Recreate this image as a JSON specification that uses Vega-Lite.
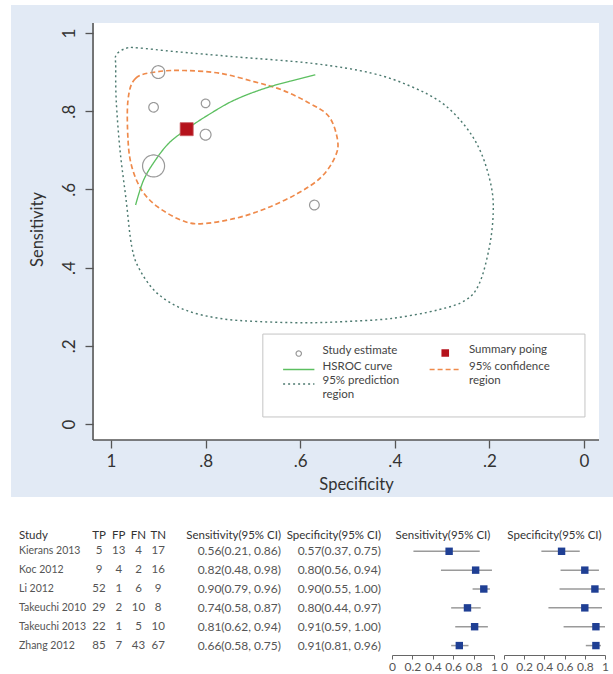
{
  "$schema": "https://vega.github.io/schema/vega-lite/v6.json",
  "padding": {"left": 10, "top": 5, "right": 0, "bottom": 0},
  "background": "white",
  "config": {
    "font": "Lato",
    "view": {"stroke": "transparent"},
    "axis": {"labelFont": "Lato", "titleFont": "Lato", "labelOverlap": false},
    "legend": {"labelFont": "Lato"},
    "text": {"font": "Lato"}
  },
  "datasets": {
    "studies": [
      {"study": "Kierans 2013", "TP": 5, "FP": 13, "FN": 4, "TN": 17, "sens": 0.56, "sensLo": 0.21, "sensHi": 0.86, "spec": 0.57, "specLo": 0.37, "specHi": 0.75},
      {"study": "Koc 2012", "TP": 9, "FP": 4, "FN": 2, "TN": 16, "sens": 0.82, "sensLo": 0.48, "sensHi": 0.98, "spec": 0.80, "specLo": 0.56, "specHi": 0.94},
      {"study": "Li 2012", "TP": 52, "FP": 1, "FN": 6, "TN": 9, "sens": 0.90, "sensLo": 0.79, "sensHi": 0.96, "spec": 0.90, "specLo": 0.55, "specHi": 1.00},
      {"study": "Takeuchi 2010", "TP": 29, "FP": 2, "FN": 10, "TN": 8, "sens": 0.74, "sensLo": 0.58, "sensHi": 0.87, "spec": 0.80, "specLo": 0.44, "specHi": 0.97},
      {"study": "Takeuchi 2013", "TP": 22, "FP": 1, "FN": 5, "TN": 10, "sens": 0.81, "sensLo": 0.62, "sensHi": 0.94, "spec": 0.91, "specLo": 0.59, "specHi": 1.00},
      {"study": "Zhang 2012", "TP": 85, "FP": 7, "FN": 43, "TN": 67, "sens": 0.66, "sensLo": 0.58, "sensHi": 0.75, "spec": 0.91, "specLo": 0.81, "specHi": 0.96}
    ],
    "pred": [
      {"i": 0, "spec": 0.989, "sens": 0.944}, {"i": 1, "spec": 0.968, "sens": 0.961}, {"i": 2, "spec": 0.944, "sens": 0.962},
      {"i": 3, "spec": 0.861, "sens": 0.952}, {"i": 4, "spec": 0.737, "sens": 0.939}, {"i": 5, "spec": 0.572, "sens": 0.922},
      {"i": 6, "spec": 0.448, "sens": 0.897}, {"i": 7, "spec": 0.365, "sens": 0.863}, {"i": 8, "spec": 0.299, "sens": 0.820},
      {"i": 9, "spec": 0.250, "sens": 0.760}, {"i": 10, "spec": 0.217, "sens": 0.692}, {"i": 11, "spec": 0.196, "sens": 0.607},
      {"i": 12, "spec": 0.192, "sens": 0.539}, {"i": 13, "spec": 0.200, "sens": 0.453}, {"i": 14, "spec": 0.221, "sens": 0.360},
      {"i": 15, "spec": 0.250, "sens": 0.317}, {"i": 16, "spec": 0.308, "sens": 0.292}, {"i": 17, "spec": 0.407, "sens": 0.270},
      {"i": 18, "spec": 0.506, "sens": 0.262}, {"i": 19, "spec": 0.588, "sens": 0.259}, {"i": 20, "spec": 0.688, "sens": 0.262},
      {"i": 21, "spec": 0.770, "sens": 0.270}, {"i": 22, "spec": 0.844, "sens": 0.292}, {"i": 23, "spec": 0.902, "sens": 0.334},
      {"i": 24, "spec": 0.939, "sens": 0.394}, {"i": 25, "spec": 0.956, "sens": 0.453}, {"i": 26, "spec": 0.968, "sens": 0.573},
      {"i": 27, "spec": 0.981, "sens": 0.701}, {"i": 28, "spec": 0.989, "sens": 0.829}, {"i": 29, "spec": 0.990, "sens": 0.914}
    ],
    "conf": [
      {"i": 0, "spec": 0.964, "sens": 0.829}, {"i": 1, "spec": 0.948, "sens": 0.884}, {"i": 2, "spec": 0.902, "sens": 0.901},
      {"i": 3, "spec": 0.844, "sens": 0.904}, {"i": 4, "spec": 0.770, "sens": 0.897}, {"i": 5, "spec": 0.696, "sens": 0.875},
      {"i": 6, "spec": 0.638, "sens": 0.854}, {"i": 7, "spec": 0.580, "sens": 0.820}, {"i": 8, "spec": 0.539, "sens": 0.786},
      {"i": 9, "spec": 0.521, "sens": 0.726}, {"i": 10, "spec": 0.526, "sens": 0.684}, {"i": 11, "spec": 0.555, "sens": 0.632},
      {"i": 12, "spec": 0.605, "sens": 0.590}, {"i": 13, "spec": 0.671, "sens": 0.552}, {"i": 14, "spec": 0.737, "sens": 0.526},
      {"i": 15, "spec": 0.811, "sens": 0.512}, {"i": 16, "spec": 0.853, "sens": 0.522}, {"i": 17, "spec": 0.902, "sens": 0.556},
      {"i": 18, "spec": 0.935, "sens": 0.598}, {"i": 19, "spec": 0.956, "sens": 0.658}, {"i": 20, "spec": 0.964, "sens": 0.726}
    ],
    "hsroc": [
      {"i": 0, "spec": 0.948, "sens": 0.560}, {"i": 1, "spec": 0.931, "sens": 0.624}, {"i": 2, "spec": 0.906, "sens": 0.675},
      {"i": 3, "spec": 0.877, "sens": 0.719}, {"i": 4, "spec": 0.840, "sens": 0.754}, {"i": 5, "spec": 0.795, "sens": 0.790},
      {"i": 6, "spec": 0.738, "sens": 0.829}, {"i": 7, "spec": 0.663, "sens": 0.863}, {"i": 8, "spec": 0.568, "sens": 0.893}
    ]
  },
  "spacing": 25,
  "vconcat": [
    {
      "width": 603,
      "height": 492,
      "view": {"fill": "#e2eaf5", "stroke": null},
      "layer": [
        {
          "data": {"values": [{"k": 1}]},
          "mark": {"type": "rect", "fill": "#ffffff"},
          "encoding": {
            "x": {
              "datum": 1.038, "type": "quantitative", "title": "Specificity",
              "scale": {"domain": [-0.0634, 1.2114], "reverse": true, "nice": false, "zero": false},
              "axis": {
                "title": "Specificity", "values": [0, 0.2, 0.4, 0.6, 0.8, 1], "offset": -57, "domain": false,
                "labelExpr": "datum.value == 0 ? '0' : datum.value == 1 ? '1' : replace(format(datum.value, '.1f'), '0.', '.')",
                "grid": false, "tickColor": "#555555", "tickWidth": 1.3, "tickSize": 8,
                "labelFontSize": 17, "labelColor": "#333333", "labelPadding": 5, "labelFlush": false, "labelOverlap": false,
                "titleFontSize": 16.5, "titleFontWeight": "normal", "titleColor": "#333333", "titlePadding": 7, "titleX": 345, "zindex": 1
              }
            },
            "x2": {"datum": -0.0317},
            "y": {
              "datum": 1.0256, "type": "quantitative", "title": "Sensitivity",
              "scale": {"domain": [-0.1867, 1.0716], "nice": false, "zero": false},
              "axis": {
                "title": "Sensitivity", "values": [0, 0.2, 0.4, 0.6, 0.8, 1], "offset": -82, "domain": false,
                "labelExpr": "datum.value == 0 ? '0' : datum.value == 1 ? '1' : replace(format(datum.value, '.1f'), '0.', '.')",
                "grid": false, "tickColor": "#555555", "tickWidth": 1.3, "tickSize": 8,
                "labelAngle": -90, "labelAlign": "center", "labelBaseline": "bottom",
                "labelFontSize": 17, "labelColor": "#333333", "labelPadding": 7, "labelFlush": false, "labelOverlap": false,
                "titleFontSize": 16.5, "titleFontWeight": "normal", "titleColor": "#333333", "titlePadding": 15, "titleY": 224, "zindex": 1
              }
            },
            "y2": {"datum": -0.0409}
          }
        },
        {
          "data": {"values": [{"k": 1}]},
          "mark": {"type": "rect", "fill": "#ffffff", "stroke": "#c4c4c4", "strokeWidth": 1},
          "encoding": {
            "x": {"datum": 0.679, "type": "quantitative", "title": "Specificity", "scale": {"domain": [-0.0634, 1.2114], "reverse": true, "nice": false, "zero": false}},
            "x2": {"datum": -0.002},
            "y": {"datum": 0.230, "type": "quantitative", "title": "Sensitivity", "scale": {"domain": [-0.1867, 1.0716], "nice": false, "zero": false}},
            "y2": {"datum": 0.018}
          }
        },
        {
          "data": {"values": [{"k": 1}]},
          "mark": {"type": "rule", "color": "#555555", "strokeWidth": 1.6},
          "encoding": {
            "x": {"datum": 1.038, "type": "quantitative", "title": "Specificity", "scale": {"domain": [-0.0634, 1.2114], "reverse": true, "nice": false, "zero": false}},
            "x2": {"datum": -0.0317},
            "y": {"datum": -0.0409, "type": "quantitative", "title": "Sensitivity", "scale": {"domain": [-0.1867, 1.0716], "nice": false, "zero": false}}
          }
        },
        {
          "data": {"values": [{"k": 1}]},
          "mark": {"type": "rule", "color": "#555555", "strokeWidth": 1.6},
          "encoding": {
            "x": {"datum": 1.038, "type": "quantitative", "title": "Specificity", "scale": {"domain": [-0.0634, 1.2114], "reverse": true, "nice": false, "zero": false}},
            "y": {"datum": -0.0409, "type": "quantitative", "title": "Sensitivity", "scale": {"domain": [-0.1867, 1.0716], "nice": false, "zero": false}},
            "y2": {"datum": 1.0256}
          }
        },
        {
          "data": {"name": "pred"},
          "mark": {"type": "line", "interpolate": "cardinal-closed"},
          "encoding": {
            "x": {"field": "spec", "type": "quantitative", "title": "Specificity", "scale": {"domain": [-0.0634, 1.2114], "reverse": true, "nice": false, "zero": false}},
            "y": {"field": "sens", "type": "quantitative", "title": "Sensitivity", "scale": {"domain": [-0.1867, 1.0716], "nice": false, "zero": false}},
            "order": {"field": "i", "type": "quantitative"},
            "color": {"datum": "95% prediction region", "scale": {"domain": ["Study estimate", "HSROC curve", "95% prediction region", "Summary poing", "95% confidence", "region"], "range": ["#999999", "#5cbf60", "#4d7a70", "#b5121b", "#ef8a4b", "transparent"]}},
            "strokeDash": {"datum": "95% prediction region", "scale": {"domain": ["Study estimate", "HSROC curve", "95% prediction region", "Summary poing", "95% confidence", "region"], "range": [[1, 0], [1, 0], [2, 3], [1, 0], [5, 3], [1, 0]]}},
            "strokeWidth": {"datum": "95% prediction region", "scale": {"domain": ["Study estimate", "HSROC curve", "95% prediction region", "Summary poing", "95% confidence", "region"], "range": [1.2, 1.8, 1.7, 1.8, 1.8, 1]}}
          }
        },
        {
          "data": {"name": "conf"},
          "mark": {"type": "line", "interpolate": "cardinal-closed"},
          "encoding": {
            "x": {"field": "spec", "type": "quantitative", "title": "Specificity", "scale": {"domain": [-0.0634, 1.2114], "reverse": true, "nice": false, "zero": false}},
            "y": {"field": "sens", "type": "quantitative", "title": "Sensitivity", "scale": {"domain": [-0.1867, 1.0716], "nice": false, "zero": false}},
            "order": {"field": "i", "type": "quantitative"},
            "color": {"datum": "95% confidence", "scale": {"domain": ["Study estimate", "HSROC curve", "95% prediction region", "Summary poing", "95% confidence", "region"], "range": ["#999999", "#5cbf60", "#4d7a70", "#b5121b", "#ef8a4b", "transparent"]}},
            "strokeDash": {"datum": "95% confidence", "scale": {"domain": ["Study estimate", "HSROC curve", "95% prediction region", "Summary poing", "95% confidence", "region"], "range": [[1, 0], [1, 0], [2, 3], [1, 0], [5, 3], [1, 0]]}},
            "strokeWidth": {"datum": "95% confidence", "scale": {"domain": ["Study estimate", "HSROC curve", "95% prediction region", "Summary poing", "95% confidence", "region"], "range": [1.2, 1.8, 1.7, 1.8, 1.8, 1]}}
          }
        },
        {
          "data": {"name": "hsroc"},
          "mark": {"type": "line", "interpolate": "cardinal"},
          "encoding": {
            "x": {"field": "spec", "type": "quantitative", "title": "Specificity", "scale": {"domain": [-0.0634, 1.2114], "reverse": true, "nice": false, "zero": false}},
            "y": {"field": "sens", "type": "quantitative", "title": "Sensitivity", "scale": {"domain": [-0.1867, 1.0716], "nice": false, "zero": false}},
            "order": {"field": "i", "type": "quantitative"},
            "color": {"datum": "HSROC curve", "scale": {"domain": ["Study estimate", "HSROC curve", "95% prediction region", "Summary poing", "95% confidence", "region"], "range": ["#999999", "#5cbf60", "#4d7a70", "#b5121b", "#ef8a4b", "transparent"]}},
            "strokeDash": {"datum": "HSROC curve", "scale": {"domain": ["Study estimate", "HSROC curve", "95% prediction region", "Summary poing", "95% confidence", "region"], "range": [[1, 0], [1, 0], [2, 3], [1, 0], [5, 3], [1, 0]]}},
            "strokeWidth": {"datum": "HSROC curve", "scale": {"domain": ["Study estimate", "HSROC curve", "95% prediction region", "Summary poing", "95% confidence", "region"], "range": [1.2, 1.8, 1.7, 1.8, 1.8, 1]}}
          }
        },
        {
          "data": {"name": "studies"},
          "transform": [{"calculate": "datum.TP + datum.FP + datum.FN + datum.TN", "as": "n"}],
          "mark": {"type": "point", "filled": false, "opacity": 1},
          "encoding": {
            "x": {"field": "spec", "type": "quantitative", "title": "Specificity", "scale": {"domain": [-0.0634, 1.2114], "reverse": true, "nice": false, "zero": false}},
            "y": {"field": "sens", "type": "quantitative", "title": "Sensitivity", "scale": {"domain": [-0.1867, 1.0716], "nice": false, "zero": false}},
            "color": {
              "datum": "Study estimate",
              "scale": {"domain": ["Study estimate", "HSROC curve", "95% prediction region", "Summary poing", "95% confidence", "region"], "range": ["#999999", "#5cbf60", "#4d7a70", "#b5121b", "#ef8a4b", "transparent"]},
              "legend": {
                "orient": "none", "legendX": 282, "legendY": 342.25, "title": null, "columns": 2, "columnPadding": 25.5,
                "padding": 0, "symbolSize": 20, "labelOffset": 18,
                "rowPadding": 0.5, "labelFontSize": 11.5, "labelColor": "#444444", "labelBaseline": "alphabetic",
                "labelExpr": "datum.label == '95% prediction region' ? ['95% prediction', 'region'] : datum.label",
                "encode": {
                  "labels": {"dy": {"value": 4}, "lineHeight": {"value": 15}}
                }
              }
            },
            "shape": {"datum": "Study estimate", "scale": {"domain": ["Study estimate", "HSROC curve", "95% prediction region", "Summary poing", "95% confidence", "region"], "range": ["M1.2,0A1.2,1.2,0,1,1,-1.2,0A1.2,1.2,0,1,1,1.2,0Z", "M-7,0H7", "M-7,0H7", "M-1.7,-1.35H1.7M-1.7,-0.81H1.7M-1.7,-0.27H1.7M-1.7,0.27H1.7M-1.7,0.81H1.7M-1.7,1.35H1.7", "M-7,0H7", "M-7,0H7"]}},
            "strokeDash": {"datum": "Study estimate", "scale": {"domain": ["Study estimate", "HSROC curve", "95% prediction region", "Summary poing", "95% confidence", "region"], "range": [[1, 0], [1, 0], [2, 3], [1, 0], [5, 3], [1, 0]]}},
            "strokeWidth": {"datum": "Study estimate", "scale": {"domain": ["Study estimate", "HSROC curve", "95% prediction region", "Summary poing", "95% confidence", "region"], "range": [1.2, 1.8, 1.7, 1.8, 1.8, 1]}},
            "size": {"field": "n", "type": "quantitative", "scale": {"domain": [0, 202], "range": [0, 336]}, "legend": null}
          }
        },
        {
          "data": {"values": [{"spec": 0.84, "sens": 0.754}]},
          "mark": {"type": "square", "filled": true, "color": "#b5121b", "stroke": "#c95a60", "strokeWidth": 0.8, "size": 170, "opacity": 1},
          "encoding": {
            "x": {"field": "spec", "type": "quantitative", "title": "Specificity", "scale": {"domain": [-0.0634, 1.2114], "reverse": true, "nice": false, "zero": false}},
            "y": {"field": "sens", "type": "quantitative", "title": "Sensitivity", "scale": {"domain": [-0.1867, 1.0716], "nice": false, "zero": false}}
          }
        }
      ]
    },
    {
      "width": 597,
      "height": 132,
      "resolve": {"scale": {"x": "independent"}, "axis": {"x": "independent"}},
      "layer": [
        {
          "data": {"values": [{"h": "Study"}]},
          "mark": {"type": "text", "align": "left", "dx": 8, "dy": 4, "fontSize": 11.5, "color": "#333333"},
          "encoding": {
            "x": {"value": 0},
            "y": {"datum": "hdr", "type": "nominal", "scale": {"type": "point", "domain": ["hdr", "Kierans 2013", "Koc 2012", "Li 2012", "Takeuchi 2010", "Takeuchi 2013", "Zhang 2012"], "padding": 0.5}, "axis": null},
            "text": {"field": "h"}
          }
        },
        {
          "data": {"name": "studies"},
          "mark": {"type": "text", "align": "left", "dx": 8, "fontSize": 10.5, "color": "#555555"},
          "encoding": {
            "x": {"value": 0},
            "y": {"field": "study", "type": "nominal", "scale": {"type": "point", "domain": ["hdr", "Kierans 2013", "Koc 2012", "Li 2012", "Takeuchi 2010", "Takeuchi 2013", "Zhang 2012"], "padding": 0.5}, "axis": null},
            "text": {"field": "study"}
          }
        },
        {
          "data": {"values": [{"key": "TP"}, {"key": "FP"}, {"key": "FN"}, {"key": "TN"}]},
          "mark": {"type": "text", "align": "center", "dy": 4, "fontSize": 11.5, "color": "#333333"},
          "encoding": {
            "x": {"field": "key", "type": "nominal", "scale": {"type": "point", "domain": ["TP", "FP", "FN", "TN"], "range": [88, 147.2], "padding": 0}, "axis": null},
            "y": {"datum": "hdr", "type": "nominal", "scale": {"type": "point", "domain": ["hdr", "Kierans 2013", "Koc 2012", "Li 2012", "Takeuchi 2010", "Takeuchi 2013", "Zhang 2012"], "padding": 0.5}, "axis": null},
            "text": {"field": "key"}
          }
        },
        {
          "data": {"name": "studies"},
          "transform": [{"fold": ["TP", "FP", "FN", "TN"], "as": ["key", "value"]}],
          "mark": {"type": "text", "align": "center", "fontSize": 11.5, "color": "#555555"},
          "encoding": {
            "x": {"field": "key", "type": "nominal", "scale": {"type": "point", "domain": ["TP", "FP", "FN", "TN"], "range": [88, 147.2], "padding": 0}, "axis": null},
            "y": {"field": "study", "type": "nominal", "scale": {"type": "point", "domain": ["hdr", "Kierans 2013", "Koc 2012", "Li 2012", "Takeuchi 2010", "Takeuchi 2013", "Zhang 2012"], "padding": 0.5}, "axis": null},
            "text": {"field": "value", "type": "quantitative"}
          }
        },
        {
          "data": {"values": [{"ckey": "sensLab", "h": "Sensitivity(95% CI)"}, {"ckey": "specLab", "h": "Specificity(95% CI)"}]},
          "mark": {"type": "text", "align": "right", "dy": 4, "fontSize": 11.5, "color": "#333333"},
          "encoding": {
            "x": {"field": "ckey", "type": "nominal", "scale": {"type": "point", "domain": ["sensLab", "specLab"], "range": [270, 370], "padding": 0}, "axis": null},
            "y": {"datum": "hdr", "type": "nominal", "scale": {"type": "point", "domain": ["hdr", "Kierans 2013", "Koc 2012", "Li 2012", "Takeuchi 2010", "Takeuchi 2013", "Zhang 2012"], "padding": 0.5}, "axis": null},
            "text": {"field": "h"}
          }
        },
        {
          "data": {"name": "studies"},
          "transform": [
            {"calculate": "format(datum.sens, '.2f') + '(' + format(datum.sensLo, '.2f') + ', ' + format(datum.sensHi, '.2f') + ')'", "as": "sensLab"},
            {"calculate": "format(datum.spec, '.2f') + '(' + format(datum.specLo, '.2f') + ', ' + format(datum.specHi, '.2f') + ')'", "as": "specLab"},
            {"fold": ["sensLab", "specLab"], "as": ["ckey", "lab"]}
          ],
          "mark": {"type": "text", "align": "right", "fontSize": 12, "color": "#555555"},
          "encoding": {
            "x": {"field": "ckey", "type": "nominal", "scale": {"type": "point", "domain": ["sensLab", "specLab"], "range": [270, 370], "padding": 0}, "axis": null},
            "y": {"field": "study", "type": "nominal", "scale": {"type": "point", "domain": ["hdr", "Kierans 2013", "Koc 2012", "Li 2012", "Takeuchi 2010", "Takeuchi 2013", "Zhang 2012"], "padding": 0.5}, "axis": null},
            "text": {"field": "lab"}
          }
        },
        {
          "data": {"values": [{"h": "Sensitivity(95% CI)"}]},
          "mark": {"type": "text", "align": "center", "dy": 4, "fontSize": 11.5, "color": "#333333"},
          "encoding": {
            "x": {"datum": 0.5, "type": "quantitative", "scale": {"domain": [0, 1], "range": [381, 483], "nice": false, "zero": false}, "axis": null},
            "y": {"datum": "hdr", "type": "nominal", "scale": {"type": "point", "domain": ["hdr", "Kierans 2013", "Koc 2012", "Li 2012", "Takeuchi 2010", "Takeuchi 2013", "Zhang 2012"], "padding": 0.5}, "axis": null},
            "text": {"field": "h"}
          }
        },
        {
          "data": {"name": "studies"},
          "mark": {"type": "rule", "color": "#9a9a9a", "strokeWidth": 1.5},
          "encoding": {
            "x": {"field": "sensLo", "type": "quantitative", "scale": {"domain": [0, 1], "range": [381, 483], "nice": false, "zero": false},
              "axis": {"orient": "bottom", "title": null, "values": [0, 0.2, 0.4, 0.6, 0.8, 1], "format": "~g", "grid": false, "domainColor": "#666666", "tickColor": "#666666", "tickSize": 4, "labelFontSize": 12, "labelColor": "#555555", "labelPadding": 2, "labelFlush": false, "labelOverlap": false,
                "encode": {"ticks": {"y": {"value": -4}}}}},
            "x2": {"field": "sensHi"},
            "y": {"field": "study", "type": "nominal", "scale": {"type": "point", "domain": ["hdr", "Kierans 2013", "Koc 2012", "Li 2012", "Takeuchi 2010", "Takeuchi 2013", "Zhang 2012"], "padding": 0.5}, "axis": null}
          }
        },
        {
          "data": {"name": "studies"},
          "mark": {"type": "square", "filled": true, "color": "#1f3f94", "size": 55, "opacity": 1},
          "encoding": {
            "x": {"field": "sens", "type": "quantitative", "scale": {"domain": [0, 1], "range": [381, 483], "nice": false, "zero": false}, "axis": null},
            "y": {"field": "study", "type": "nominal", "scale": {"type": "point", "domain": ["hdr", "Kierans 2013", "Koc 2012", "Li 2012", "Takeuchi 2010", "Takeuchi 2013", "Zhang 2012"], "padding": 0.5}, "axis": null}
          }
        },
        {
          "data": {"values": [{"h": "Specificity(95% CI)"}]},
          "mark": {"type": "text", "align": "center", "dy": 4, "fontSize": 11.5, "color": "#333333"},
          "encoding": {
            "x": {"datum": 0.5, "type": "quantitative", "scale": {"domain": [0, 1], "range": [493, 594], "nice": false, "zero": false}, "axis": null},
            "y": {"datum": "hdr", "type": "nominal", "scale": {"type": "point", "domain": ["hdr", "Kierans 2013", "Koc 2012", "Li 2012", "Takeuchi 2010", "Takeuchi 2013", "Zhang 2012"], "padding": 0.5}, "axis": null},
            "text": {"field": "h"}
          }
        },
        {
          "data": {"name": "studies"},
          "mark": {"type": "rule", "color": "#9a9a9a", "strokeWidth": 1.5},
          "encoding": {
            "x": {"field": "specLo", "type": "quantitative", "scale": {"domain": [0, 1], "range": [493, 594], "nice": false, "zero": false},
              "axis": {"orient": "bottom", "title": null, "values": [0, 0.2, 0.4, 0.6, 0.8, 1], "format": "~g", "grid": false, "domainColor": "#666666", "tickColor": "#666666", "tickSize": 4, "labelFontSize": 12, "labelColor": "#555555", "labelPadding": 2, "labelFlush": false, "labelOverlap": false,
                "encode": {"ticks": {"y": {"value": -4}}}}},
            "x2": {"field": "specHi"},
            "y": {"field": "study", "type": "nominal", "scale": {"type": "point", "domain": ["hdr", "Kierans 2013", "Koc 2012", "Li 2012", "Takeuchi 2010", "Takeuchi 2013", "Zhang 2012"], "padding": 0.5}, "axis": null}
          }
        },
        {
          "data": {"name": "studies"},
          "mark": {"type": "square", "filled": true, "color": "#1f3f94", "size": 55, "opacity": 1},
          "encoding": {
            "x": {"field": "spec", "type": "quantitative", "scale": {"domain": [0, 1], "range": [493, 594], "nice": false, "zero": false}, "axis": null},
            "y": {"field": "study", "type": "nominal", "scale": {"type": "point", "domain": ["hdr", "Kierans 2013", "Koc 2012", "Li 2012", "Takeuchi 2010", "Takeuchi 2013", "Zhang 2012"], "padding": 0.5}, "axis": null}
          }
        }
      ]
    }
  ]
}
